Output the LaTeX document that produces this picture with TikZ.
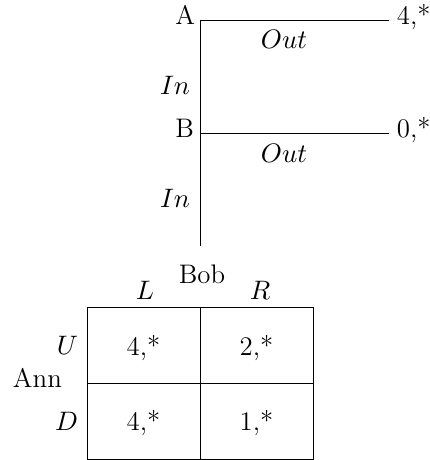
\documentclass[tikz,border=0pt]{standalone}
\begin{document}
\begin{tikzpicture}[x=0.41pt,y=-0.41pt,
  lbl/.style={inner sep=0pt,outer sep=0pt,font=\fontsize{11}{13}\selectfont},
  ln/.style={line width=0.4pt}]
\useasboundingbox (0,0) rectangle (430,460);
% tree
\coordinate (a) at (200,20);
\coordinate (b) at (200,133);
\coordinate (bot) at (200,246);
\coordinate (ae) at (389,20);
\coordinate (be) at (389,133);
\draw[ln] (a) -- (bot);
\draw[ln] (a) -- (ae);
\draw[ln] (b) -- (be);
\node[lbl,anchor=base east] (nA) at (195,24) {A};
\node[lbl,anchor=base east] (nB) at (194,137) {B};
\node[lbl,anchor=base west] (pa) at (397,24) {4,*};
\node[lbl,anchor=base west] (pb) at (397,137) {0,*};
\node[lbl,anchor=base] (o1) at (284,48) {$Out$};
\node[lbl,anchor=base] (o2) at (284,162) {$Out$};
\node[lbl,anchor=base east] (i1) at (190,94) {$In$};
\node[lbl,anchor=base east] (i2) at (190,207) {$In$};
% matrix
\coordinate (tl) at (87,307);
\coordinate (br) at (313,459);
\coordinate (mt) at (200,307);
\coordinate (mb) at (200,459);
\coordinate (ml) at (87,383);
\coordinate (mr) at (313,383);
\draw[ln] (tl) rectangle (br);
\draw[ln] (mt) -- (mb);
\draw[ln] (ml) -- (mr);
\node[lbl,anchor=base] (bob) at (202,283) {Bob};
\node[lbl,anchor=base] (cL) at (145,299) {$L$};
\node[lbl,anchor=base] (cR) at (260,299) {$R$};
\node[lbl,anchor=base east] (rU) at (78,354) {$U$};
\node[lbl,anchor=base east] (rD) at (78,430) {$D$};
\node[lbl,anchor=base west] (ann) at (13,387) {Ann};
\node[lbl,anchor=base] (c11) at (143.5,355) {4,*};
\node[lbl,anchor=base] (c12) at (256.5,355) {2,*};
\node[lbl,anchor=base] (c21) at (143.5,430) {4,*};
\node[lbl,anchor=base] (c22) at (256.5,430) {1,*};
\end{tikzpicture}
\end{document}
